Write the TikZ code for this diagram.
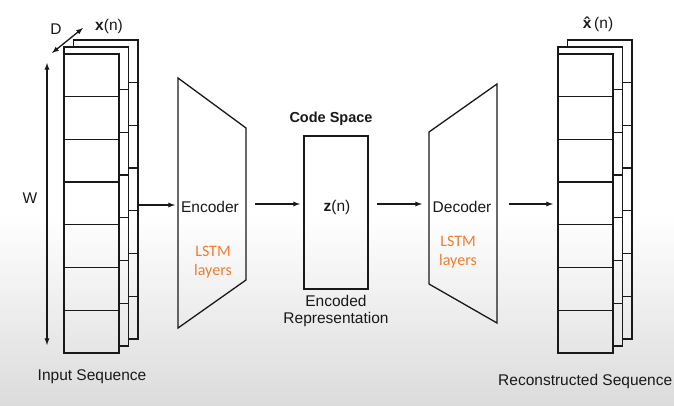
\documentclass[tikz,border=0pt]{standalone}
\usepackage{fontspec}
\setmainfont{Liberation Sans}
\newfontfamily\lstmfont{Carlito}
\usepackage{tikz}
\usetikzlibrary{backgrounds}
\usepackage{xcolor}
\usetikzlibrary{positioning}
\usetikzlibrary{arrows}
\definecolor{lstmorange}{RGB}{237,125,49}

% stack of sequence frames: #1 = left x of front frame, #2 = name
\newcommand{\seqstack}[2]{%
\begin{scope}[xshift=#1pt]
\foreach \k in {2,1} {
  \draw[seqline] ({9.5*\k-9.5},{61-7*\k}) -- ({9.5*\k-9.5},{54-7*\k}) -- ({9.5*\k+55},{54-7*\k}) -- ({9.5*\k+55},{353-7*\k}) -- ({9.5*\k+45.5},{353-7*\k});
  \foreach \i in {1,...,6}
    \draw[seqline] ({9.5*\k+45.5},{54-7*\k+\i*42.71}) -- ({9.5*\k+55},{54-7*\k+\i*42.71});
}
\draw[seqline] (0,54) rectangle (55,353);
\foreach \i in {1,...,6}
  \draw[seqline] (0,{54+\i*42.71}) -- (55,{54+\i*42.71});
\coordinate (#2-w) at (-5,204);
\coordinate (#2-e) at (74,205);
\end{scope}}

\begin{document}
\begin{tikzpicture}[x=1pt,y=-1pt,
  seqline/.style={draw=black!90,line width=1.3pt},
  arr/.style={draw=black!90,line width=1.3pt,-latex},
  dimarr/.style={draw=black!90,line width=1.3pt,latex-latex},
  lbl/.style={font=\fontsize{15.5}{17.5}\selectfont,text=black!90,inner sep=0},
  lstm/.style={font=\lstmfont\fontsize{16}{19}\selectfont,text=lstmorange,inner sep=0,align=center}]

\useasboundingbox (0,0) rectangle (674,406);
\fill[white] (0,0) rectangle (674,215);
\shade[top color=white,bottom color=black!14] (0,215) rectangle (674,406);

\seqstack{64}{in}
\seqstack{558}{out}

% input dimensions
\coordinate (w-top) at (47,63);
\coordinate (w-bot) at (47,345);
\coordinate (d-front) at (52,53);
\coordinate (d-back) at (83,28);
\draw[dimarr] (w-top) -- (w-bot);
\draw[dimarr] (d-front) -- (d-back);
\node (wlbl) at (30,198) [lbl] {W};
\node (dlbl) at (56,29) [lbl] {D};
\node (xin) at (109,26) [lbl] {\textbf{x}(n)};
\node (xout) at (598,24) [lbl] {\textbf{\^{x}}(n)};
\node (inlbl) at (92,377) [lbl] {Input Sequence};
\node (outlbl) at (498,381) [lbl,anchor=west] {Reconstructed Sequence};

% encoder
\draw[seqline] (178,78) -- (246,128) -- (246,280) -- (178,328) -- cycle;
\coordinate (enc-w) at (175,205);
\coordinate (enc-e) at (255,204);
\node (enc) at (210,207) [lbl] {Encoder};
\node (enclstm) at (213,262) [lstm] {LSTM\\layers};

% code space
\node (code) at (336,212.5) [seqline,minimum width=64pt,minimum height=153pt,inner sep=0] {};
\node (codelbl) at (331,119) [lbl,font=\bfseries\fontsize{14.5}{17}\selectfont] {Code Space};
\node (z) at (337,207) [lbl] {\textbf{z}(n)};
\node (encrep) at (336,311) [lbl,align=center] {Encoded\\Representation};
\coordinate (code-w) at (300,204);
\coordinate (code-e) at (377,204);

% decoder
\draw[seqline] (429,132) -- (497,84) -- (497,323) -- (429,284) -- cycle;
\coordinate (dec-w) at (422,204);
\coordinate (dec-e) at (509,204);
\node (dec) at (462,207) [lbl] {Decoder};
\node (declstm) at (458,252) [lstm] {LSTM\\layers};

\draw[arr] (in-e) -- (enc-w);
\draw[arr] (enc-e) -- (code-w);
\draw[arr] (code-e) -- (dec-w);
\draw[arr] (dec-e) -- (out-w);

\end{tikzpicture}
\end{document}
